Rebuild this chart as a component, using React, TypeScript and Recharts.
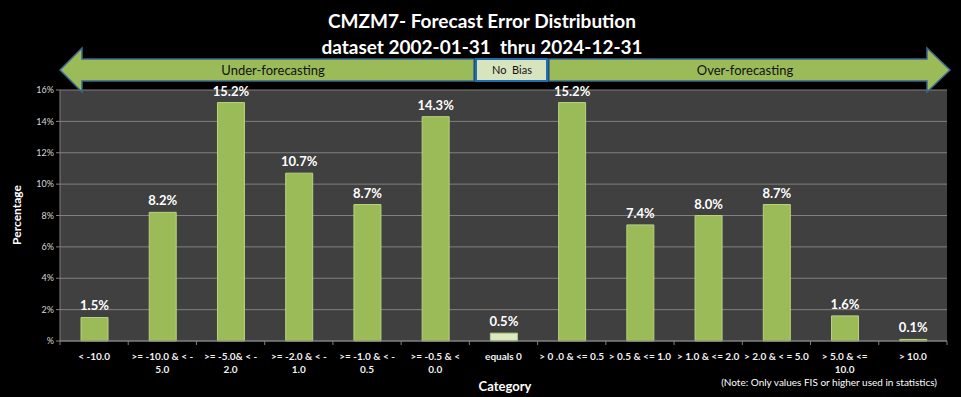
import React from "react";
import { BarChart, Bar, XAxis, YAxis, CartesianGrid, LabelList, Cell } from "recharts";

const categories = [
  "< -10.0",
  ">= -10.0 & < -\n5.0",
  ">= -5.0& < -\n2.0",
  ">= -2.0 & < -\n1.0",
  ">= -1.0 & < -\n0.5",
  ">= -0.5 & <\n0.0",
  "equals 0",
  "> 0 .0 & <= 0.5",
  "> 0.5 & <= 1.0",
  "> 1.0 & <= 2.0",
  "> 2.0 & < = 5.0",
  "> 5.0 & <=\n10.0",
  "> 10.0",
];
const percentages = [1.5, 8.2, 15.2, 10.7, 8.7, 14.3, 0.5, 15.2, 7.4, 8.0, 8.7, 1.6, 0.1];
const yTicks = [0, 2, 4, 6, 8, 10, 12, 14, 16];

const W = 961;
const H = 397;
const PLOT_L = 60;
const PLOT_R = 947;
const FONT = "Lato, 'Open Sans', sans-serif";
const GREEN = "#9bbb59";

const data = categories.map((c, i) => ({ cat: c, pct: percentages[i] }));

// category ticks: text lines + tick mark on the left edge of each band
function CatTick(props: any) {
  const { x, y, payload, index } = props;
  const step = (PLOT_R - PLOT_L) / categories.length;
  const lines = String(payload.value).split("\n");
  return (
    <g>
      <line x1={x - step / 2} x2={x - step / 2} y1={y - 8} y2={y - 4} stroke="#808080" />
      {index === categories.length - 1 && (
        <line x1={x + step / 2} x2={x + step / 2} y1={y - 8} y2={y - 4} stroke="#808080" />
      )}
      {lines.map((l, i) => (
        <text key={i} x={x} y={y + 11 + i * 13} textAnchor="middle" fill="#f2f2f2"
          fontSize={10} fontWeight="bold" fontFamily={FONT} style={{ whiteSpace: "pre" }}>
          {l}
        </text>
      ))}
    </g>
  );
}

function Overlay() {
  const arrowStroke = "#3a6591";
  return (
    <svg width={W} height={H} style={{ position: "absolute", left: 0, top: 0, pointerEvents: "none" }}>
      <text x={482} y={28} textAnchor="middle" fill="#fff" fontSize={19} fontWeight="bold" fontFamily={FONT}>
        CMZM7- Forecast Error Distribution
      </text>
      <text x={482} y={54} textAnchor="middle" fill="#fff" fontSize={19} fontWeight="bold" fontFamily={FONT}
        style={{ whiteSpace: "pre" }}>
        {"dataset 2002-01-31  thru 2024-12-31"}
      </text>
      {/* under-forecasting arrow */}
      <polygon points="474,59 82,59 82,48 60,70 82,92 82,81 474,81" fill={GREEN} stroke={arrowStroke} strokeWidth={1.5} />
      <text x={273} y={75} textAnchor="middle" fill="#111" fontSize={13} fontFamily={FONT}>Under-forecasting</text>
      {/* no bias box */}
      <rect x={476} y={59} width={71} height={22} fill="#d7e4bd" stroke="#1f6fb0" strokeWidth={2} />
      <text x={512} y={74} textAnchor="middle" fill="#111" fontSize={11} fontFamily={FONT} style={{ whiteSpace: "pre" }}>
        {"No  Bias"}
      </text>
      {/* over-forecasting arrow */}
      <polygon points="549,59 927,59 927,48 950,70 927,92 927,81 549,81" fill={GREEN} stroke={arrowStroke} strokeWidth={1.5} />
      <text x={745} y={75} textAnchor="middle" fill="#111" fontSize={13} fontFamily={FONT}>Over-forecasting</text>
      <text x={505} y={391} textAnchor="middle" fill="#fff" fontSize={13} fontWeight="bold" fontFamily={FONT}>Category</text>
      <text x={937} y={386} textAnchor="end" fill="#fff" fontSize={10} fontFamily={FONT}>
        (Note: Only values FIS or higher used in statistics)
      </text>
      <text x={0} y={0} transform="translate(21,215) rotate(-90)" textAnchor="middle" fill="#fff"
        fontSize={12} fontWeight="bold" fontFamily={FONT}>Percentage</text>
    </svg>
  );
}

export default function App() {
  return (
    <div style={{ position: "absolute", left: 0, top: 0, width: W, height: H, background: "#000" }}>
      <BarChart width={W} height={H} data={data} margin={{ top: 90, right: W - PLOT_R, bottom: 16, left: 0 }}>
        <CartesianGrid vertical={false} stroke="#808080" fill="#404040" />
        <XAxis dataKey="cat" interval={0} height={40} axisLine={{ stroke: "#808080" }} tickLine={false} tick={<CatTick />} />
        <YAxis width={PLOT_L} domain={[0, 16]} ticks={yTicks} axisLine={{ stroke: "#808080" }}
          tickLine={{ stroke: "#808080" }} tickSize={4}
          tickFormatter={(v: number) => (v === 0 ? "%" : `${v}%`)}
          tick={{ fill: "#d9d9d9", fontSize: 9, fontFamily: FONT }} />
        <Bar dataKey="pct" barSize={27} stroke="#b9d37f" strokeWidth={1} isAnimationActive={false}>
          {data.map((d, i) => (
            <Cell key={i} fill={d.cat === "equals 0" ? "#dde9c3" : GREEN} />
          ))}
          <LabelList dataKey="pct" position="top" offset={7} fill="#fff" fontSize={13} fontWeight="bold"
            fontFamily={FONT} formatter={(v: any) => `${Number(v).toFixed(1)}%`} />
        </Bar>
      </BarChart>
      <Overlay />
    </div>
  );
}
